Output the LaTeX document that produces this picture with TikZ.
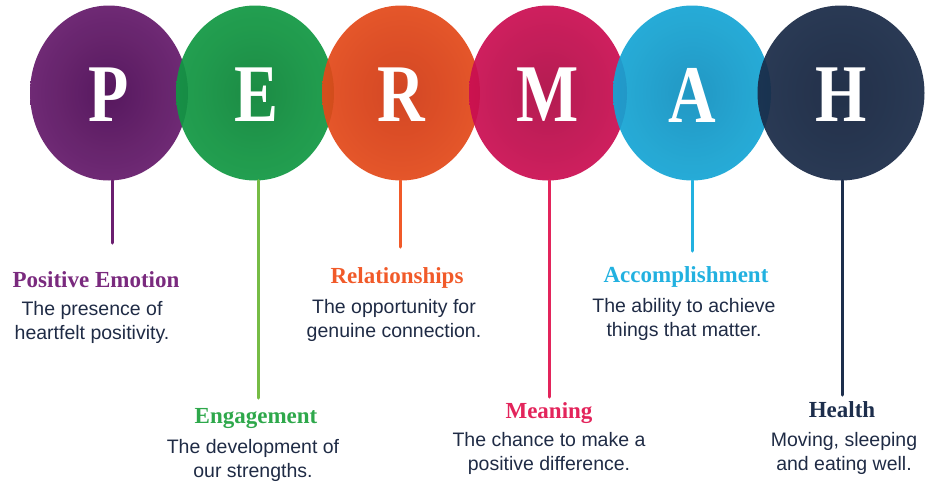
\documentclass[tikz,border=0pt]{standalone}
\usepackage{fontspec}
\setmainfont{Liberation Sans}
\newfontfamily\titlefont{Liberation Serif}
\usepackage{xcolor}
\usetikzlibrary{shapes.geometric, positioning}

% circle colours (edge / centre)
\definecolor{posEdge}{HTML}{6B1F70}
\definecolor{posCore}{HTML}{4A0752}
\definecolor{engEdge}{HTML}{139E47}
\definecolor{engCore}{HTML}{0B8336}
\definecolor{relEdge}{HTML}{E84E1C}
\definecolor{relCore}{HTML}{CF3813}
\definecolor{meaEdge}{HTML}{D20F56}
\definecolor{meaCore}{HTML}{AE0B44}
\definecolor{accEdge}{HTML}{17ABDA}
\definecolor{accCore}{HTML}{1190BF}
\definecolor{heaEdge}{HTML}{1C2D4A}
\definecolor{heaCore}{HTML}{11213C}
% stems and headings
\definecolor{posText}{HTML}{7A2A7E}
\definecolor{engStem}{HTML}{76BC45}
\definecolor{engText}{HTML}{2EA84B}
\definecolor{relText}{HTML}{F15A29}
\definecolor{meaText}{HTML}{E3245B}
\definecolor{accText}{HTML}{22B1E0}
\definecolor{heaText}{HTML}{1D2E4C}
\definecolor{blurbText}{HTML}{1F2B45}

\newcommand\stretchedletter[1]{\scalebox{1.03}[1.28]{#1}}

\tikzset{
    bubble/.style 2 args={ellipse, minimum width=158pt, minimum height=175pt, inner sep=0pt,
        path picture={\shade[inner color=#1, outer color=#2, fill opacity=0.93]
            (path picture bounding box.center) ellipse (100pt and 111pt);}},
    initial/.style={text=white, font=\titlefont\bfseries\fontsize{64}{64}\selectfont},
    stem/.style={line width=3pt},
    heading/.style={anchor=base, inner sep=0pt, font=\titlefont\bfseries\fontsize{23}{23}\selectfont},
    blurb/.style={align=center, inner sep=0pt, text=blurbText, font=\fontsize{19.5}{24}\selectfont}
}

\begin{document}
\begin{tikzpicture}[x=1pt,y=1pt,cap=round]
    \useasboundingbox (0,0) rectangle (932,-483);

    % draw the circles with their letters
    \node[bubble={posCore}{posEdge}] (P) at (109,-93) {};
    \node[initial] (Pl) at (109,-95) {\stretchedletter{P}};

    \node[bubble={engCore}{engEdge}] (E) at (255,-93) {};
    \node[initial] (El) at (256,-95) {\stretchedletter{E}};

    \node[bubble={relCore}{relEdge}] (R) at (401,-93) {};
    \node[initial] (Rl) at (401,-95) {\stretchedletter{R}};

    \node[bubble={meaCore}{meaEdge}] (M) at (548,-93) {};
    \node[initial] (Ml) at (548,-95) {\stretchedletter{M}};

    \node[bubble={accCore}{accEdge}] (A) at (692,-93) {};
    \node[initial] (Al) at (692,-95) {\stretchedletter{A}};

    \node[bubble={heaCore}{heaEdge}, minimum width=167pt] (H) at (841,-93) {};
    \node[initial] (Hl) at (841,-95) {\stretchedletter{H}};

    % draw the stems
    \coordinate (posEnd) at (112,-243);
    \coordinate (engEnd) at (258,-398);
    \coordinate (relEnd) at (400,-247);
    \coordinate (meaEnd) at (549,-397);
    \coordinate (accEnd) at (692,-251);
    \coordinate (heaEnd) at (842,-395);
    \draw[stem, posEdge] (posEnd |- P.south) -- (posEnd);
    \draw[stem, engStem] (engEnd |- E.south) -- (engEnd);
    \draw[stem, relText] (relEnd |- R.south) -- (relEnd);
    \draw[stem, meaText] (meaEnd |- M.south) -- (meaEnd);
    \draw[stem, accText] (accEnd |- A.south) -- (accEnd);
    \draw[stem, heaText] (heaEnd |- H.south) -- (heaEnd);

    % headings and their text
    \node[heading, text=posText] (posTitle) at (96,-287) {Positive Emotion};
    \node[blurb, below=14pt of posTitle.base, xshift=-4pt] (posBlurb) {The presence of\\heartfelt positivity.};

    \node[heading, text=engText] (engTitle) at (256,-423) {Engagement};
    \node[blurb, below=16pt of engTitle.base, xshift=-3pt] (engBlurb) {The development of\\our strengths.};

    \node[heading, text=relText] (relTitle) at (397,-283) {Relationships};
    \node[blurb, below=16pt of relTitle.base, xshift=-3pt] (relBlurb) {The opportunity for\\genuine connection.};

    \node[heading, text=meaText] (meaTitle) at (549,-418) {Meaning};
    \node[blurb, below=14pt of meaTitle.base] (meaBlurb) {The chance to make a\\positive difference.};

    \node[heading, text=accText] (accTitle) at (686,-282) {Accomplishment};
    \node[blurb, below=16pt of accTitle.base, xshift=-2pt] (accBlurb) {The ability to achieve\\things that matter.};

    \node[heading, text=heaText] (heaTitle) at (842,-417) {Health};
    \node[blurb, below=15pt of heaTitle.base, xshift=2pt] (heaBlurb) {Moving, sleeping\\and eating well.};

\end{tikzpicture}
\end{document}
